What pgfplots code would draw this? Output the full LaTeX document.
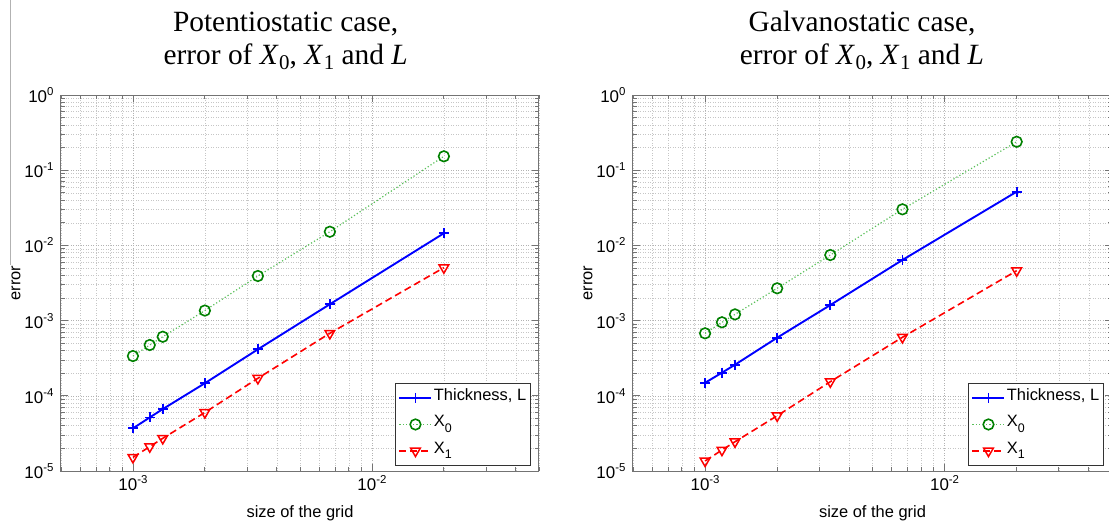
\documentclass[border=0pt]{standalone}
\usepackage{fontspec}
\setmainfont{Liberation Sans}
\newfontfamily\seriffont{Liberation Serif}
\usepackage{pgfplots}
\pgfplotsset{compat=1.18}
\usepackage{pgfplotstable}

\definecolor{mblue}{rgb}{0,0,1}
\definecolor{mgreen}{rgb}{0,0.5,0}
\definecolor{mgreenline}{rgb}{0.35,0.75,0.35}
\definecolor{mred}{rgb}{1,0,0}
\definecolor{mframe}{gray}{0.45}

% grid size h, error of thickness L, of X0 and of X1
\pgfplotstableread{
h        L        X0       X1
0.001    3.69e-5  3.38e-4  1.52e-5
0.001176 5.16e-5  4.74e-4  2.11e-5
0.001333 6.66e-5  6.10e-4  2.72e-5
0.002    1.47e-4  1.36e-3  6.00e-5
0.003333 4.15e-4  3.92e-3  1.71e-4
0.006667 1.65e-3  1.52e-2  6.78e-4
0.02     1.45e-2  0.153    5.06e-3
}\potentio

\pgfplotstableread{
h        L        X0       X1
0.001    1.49e-4  6.78e-4  1.36e-5
0.001176 2.03e-4  9.50e-4  1.90e-5
0.001333 2.59e-4  1.21e-3  2.45e-5
0.002    5.93e-4  2.69e-3  5.43e-5
0.003333 1.61e-3  7.45e-3  1.54e-4
0.006667 6.40e-3  3.02e-2  6.00e-4
0.02     5.18e-2  0.239    4.61e-3
}\galvano

% subscripts in the titles and in the legend, powers of ten on the ticks
\newcommand\tsub[1]{\kern0.5bp\raisebox{-5bp}{\fontsize{21}{21}\selectfont #1}}
\newcommand\lsub[1]{\raisebox{-5.5bp}{\fontsize{12.5}{12.5}\selectfont #1}}
\newcommand\tpow[1]{10\raisebox{7bp}{\fontsize{11.5}{11.5}\selectfont #1}}
\newcommand\titlefont{\seriffont\fontsize{29.5}{34}\selectfont}
\newcommand\labelfont{\fontsize{16.5}{19}\selectfont}

\pgfplotsset{
  every axis/.append style={
    scale only axis, height=376bp,
    grid=both,
    major grid style={dash pattern=on 1bp off 1.5bp, gray!60, line width=0.5bp},
    minor grid style={dash pattern=on 1bp off 1.5bp, gray!45, line width=0.5bp},
    axis line style={mframe, line width=1bp},
    tick style={mframe, line width=0.8bp},
    major tick length=7bp, minor tick length=4bp,
    tick align=inside,
    ticklabel style={font=\fontsize{17}{19}\selectfont},
    yticklabel style={xshift=-4bp},
    xticklabel style={yshift=-1bp},
    xlabel style={at={(axis description cs:0.5,-0.112)}, anchor=center, font=\labelfont},
    ylabel style={at={(axis description cs:-0.094,0.5)}, anchor=center, font=\labelfont},
    legend cell align=left,
    legend style={at={(axis description cs:1,0)}, anchor=south east,
      xshift=-8bp, yshift=5bp, draw=black!80, line width=0.6bp, fill=white,
      font=\labelfont, inner xsep=3bp, inner ysep=1.5bp, row sep=0bp,
      nodes={inner xsep=1.5bp, inner ysep=3.5bp, text height=12bp, text depth=7.5bp}},
  },
  legend image code/.code={%
    \draw[mark repeat=2,mark phase=2,#1]
      plot coordinates {(0bp,0bp) (16bp,0bp) (32bp,0bp)};},
}

\begin{document}
\begin{tikzpicture}
\useasboundingbox (0,0) rectangle (1109bp,-524bp);
\draw[gray!60, line width=1bp] (10bp,0) -- (10bp,-265bp);

\begin{axis}[at={(61bp,-471bp)}, width=478bp,
  xmode=log, ymode=log, xmin=5e-4, xmax=5e-2, ymin=1e-5, ymax=1, clip=false,
  xticklabel={\pgfmathtruncatemacro\ex{round(\tick/ln(10))}\tpow{\ex}},
  yticklabel={\pgfmathtruncatemacro\ex{round(\tick/ln(10))}\tpow{\ex}},
  xlabel={size of the grid}, ylabel={error}]
  \addplot[mblue, line width=1.9bp, mark=+, mark size=5bp,
    mark options={solid, line width=1.8bp}] table[x=h, y=L] {\potentio};
  \addplot[mgreenline, dash pattern=on 1.2bp off 2.2bp, line width=1.2bp,
    mark=o, mark size=5.3bp, mark options={solid, mgreen, line width=1.6bp}]
    table[x=h, y=X0] {\potentio};
  \addplot[mred, dash pattern=on 7bp off 4bp, line width=1.6bp,
    mark=triangle, mark size=5.6bp,
    mark options={solid, rotate=180, line width=1.5bp, fill=white}]
    table[x=h, y=X1] {\potentio};
  \legend{{Thickness, L}, X\lsub{0}, X\lsub{1}}
  \node[anchor=base, yshift=64bp, font=\titlefont]
    at (axis description cs:0.47,1) {Potentiostatic case,};
  \node[anchor=base, yshift=31bp, font=\titlefont]
    at (axis description cs:0.47,1)
    {error of \textit{X}\tsub{0}, \textit{X}\tsub{1} and \textit{L}};
\end{axis}

\begin{axis}[at={(633bp,-471bp)}, width=479bp,
  xmode=log, ymode=log, xmin=5e-4, xmax=5e-2, ymin=1e-5, ymax=1, clip=false,
  xticklabel={\pgfmathtruncatemacro\ex{round(\tick/ln(10))}\tpow{\ex}},
  yticklabel={\pgfmathtruncatemacro\ex{round(\tick/ln(10))}\tpow{\ex}},
  xlabel={size of the grid}, ylabel={error}]
  \addplot[mblue, line width=1.9bp, mark=+, mark size=5bp,
    mark options={solid, line width=1.8bp}] table[x=h, y=L] {\galvano};
  \addplot[mgreenline, dash pattern=on 1.2bp off 2.2bp, line width=1.2bp,
    mark=o, mark size=5.3bp, mark options={solid, mgreen, line width=1.6bp}]
    table[x=h, y=X0] {\galvano};
  \addplot[mred, dash pattern=on 7bp off 4bp, line width=1.6bp,
    mark=triangle, mark size=5.6bp,
    mark options={solid, rotate=180, line width=1.5bp, fill=white}]
    table[x=h, y=X1] {\galvano};
  \legend{{Thickness, L}, X\lsub{0}, X\lsub{1}}
  \node[anchor=base, yshift=64bp, font=\titlefont]
    at (axis description cs:0.478,1) {Galvanostatic case,};
  \node[anchor=base, yshift=31bp, font=\titlefont]
    at (axis description cs:0.478,1)
    {error of \textit{X}\tsub{0}, \textit{X}\tsub{1} and \textit{L}};
\end{axis}
\end{tikzpicture}
\end{document}
